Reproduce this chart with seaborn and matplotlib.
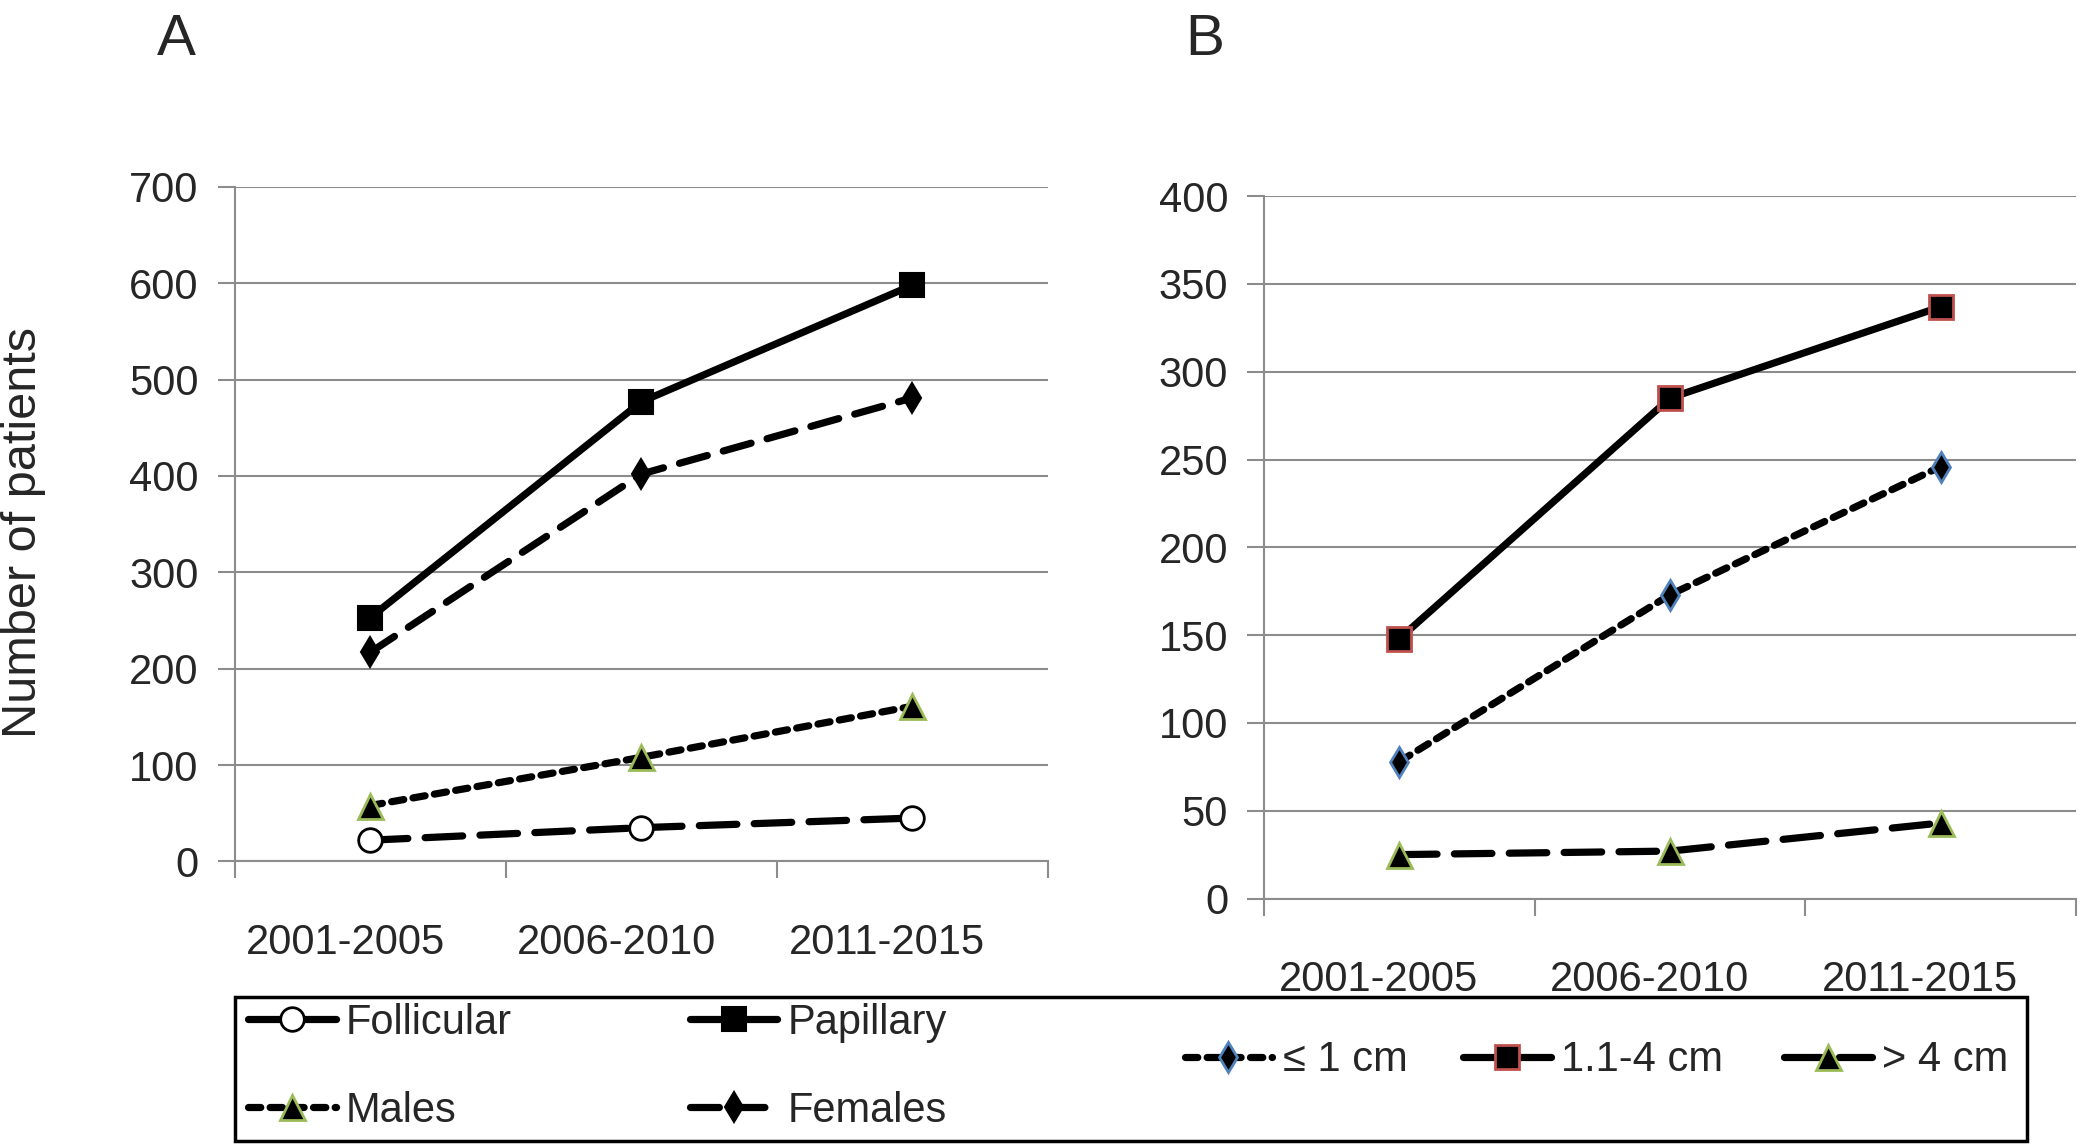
import matplotlib
matplotlib.use("Agg")
import matplotlib.pyplot as plt
import matplotlib.transforms as mtransforms
import seaborn as sns
from matplotlib.patches import Rectangle

# ---- data ----
periods = ["2001-2005", "2006-2010", "2011-2015"]
follicular = [22, 35, 45]
papillary = [253, 477, 598]
males = [58, 108, 161]
females = [217, 402, 481]
size_le1 = [78, 173, 246]
size_1_4 = [148, 285, 337]
size_gt4 = [25, 27, 43]

sns.set_theme(style="white")
plt.rcParams['font.family'] = ['Liberation Sans', 'DejaVu Sans']

W, H = 1568, 864  # layout reference grid


def fx(px):
    return px / W


def fy(py):
    return 1 - py / H


fig = plt.figure(figsize=(20.8, 11.45), dpi=100)
axA = fig.add_axes([fx(177), fy(650), fx(790) - fx(177), fy(141) - fy(650)])
axB = fig.add_axes([fx(953), fy(678), fx(1565) - fx(953), fy(148) - fy(678)])

GRID = '#8c8c8c'
FS = 30
LW = 5.2


def style(ax, ymax, step, xshift):
    ax.set_xlim(-0.5, 2.5)
    ax.set_ylim(0, ymax)
    ax.set_yticks(list(range(0, ymax + 1, step)))
    ax.set_xticks([0, 1, 2])
    ax.set_xticklabels(periods)
    ax.set_xticks([-0.5, 0.5, 1.5, 2.5], minor=True)
    ax.tick_params(axis='x', which='major', length=0, pad=44, labelsize=FS, bottom=False)
    ax.tick_params(axis='x', which='minor', length=12, width=1.5, color=GRID,
                   direction='out', bottom=True)
    ax.tick_params(axis='y', length=12, width=1.5, color=GRID, pad=14,
                   labelsize=FS, left=True, direction='out')
    ax.yaxis.grid(True, color=GRID, lw=1.5)
    ax.xaxis.grid(False)
    for s in ['top', 'right']:
        ax.spines[s].set_visible(False)
    for s in ['left', 'bottom']:
        ax.spines[s].set_color(GRID)
        ax.spines[s].set_linewidth(1.5)
    ax.set_xlabel('')
    ax.set_ylabel('')
    ax.set_axisbelow(True)
    off = mtransforms.ScaledTranslation(xshift / 100, 0, fig.dpi_scale_trans)
    for lab in ax.get_xticklabels():
        lab.set_transform(lab.get_transform() + off)


def line(ax, y, ls, marker, ms, mfc, mec, mew=1.5):
    n0 = len(ax.lines)
    sns.lineplot(x=periods, y=y, ax=ax, color='black', lw=LW, linestyle=ls,
                 marker=marker, markersize=ms, markerfacecolor=mfc,
                 markeredgecolor=mec, markeredgewidth=mew, legend=False, sort=False)
    ln = ax.lines[n0]
    ln.set_markerfacecolor(mfc)
    ln.set_markeredgecolor(mec)
    ln.set_markeredgewidth(mew)
    ln.set_dash_capstyle('round')
    ln.set_solid_capstyle('round')
    ln.set_clip_on(False)
    return ln


LONG = (0, (5.2, 2.4))
MID = (0, (4.0, 2.3))
SHORT = (0, (1.7, 1.3))
GREEN = '#9bbb59'
BLUE = '#4f81bd'
RED = '#c0504d'

hA_foll = line(axA, follicular, LONG, 'o', 17, 'white', 'black', 2)
hA_pap = line(axA, papillary, '-', 's', 17, 'black', 'black')
hA_male = line(axA, males, SHORT, '^', 18, 'black', GREEN, 2)
hA_fem = line(axA, females, MID, 'd', 15, 'black', 'black')

hB_le1 = line(axB, size_le1, SHORT, 'd', 15, 'black', BLUE, 2)
hB_14 = line(axB, size_1_4, '-', 's', 17, 'black', RED, 2)
hB_gt4 = line(axB, size_gt4, LONG, '^', 18, 'black', GREEN, 2)

style(axA, 700, 100, -25)
style(axB, 400, 50, -21)

# panel letters and y label
fig.text(fx(133), fy(30), 'A', fontsize=42, ha='center', va='center')
fig.text(fx(908), fy(30), 'B', fontsize=42, ha='center', va='center')
fig.text(fx(18), fy(402), 'Number of patients', fontsize=35, rotation=90,
         ha='center', va='center')

# legend box
fig.patches.append(Rectangle((fx(177), fy(861)), fx(1528) - fx(177), fy(752) - fy(861),
                             transform=fig.transFigure, fill=False,
                             edgecolor='black', lw=2.5))

entries = [
    (hA_foll, 'Follicular', 187, 772),
    (hA_pap, 'Papillary', 520, 772),
    (hA_male, 'Males', 187, 838),
    (hA_fem, 'Females', 520, 838),
    (hB_le1, '\u2264 1 cm', 893, 800),
    (hB_14, '1.1-4 cm', 1103, 800),
    (hB_gt4, '> 4 cm', 1345, 800),
]
for h, lab, x0, y0 in entries:
    fig.legend([h], [lab], loc='center left', bbox_to_anchor=(fx(x0), fy(y0)),
               bbox_transform=fig.transFigure, frameon=False, fontsize=FS,
               handlelength=2.1, handletextpad=0.25, borderpad=0, borderaxespad=0,
               numpoints=1)

fig.savefig('out.png', dpi=100)
